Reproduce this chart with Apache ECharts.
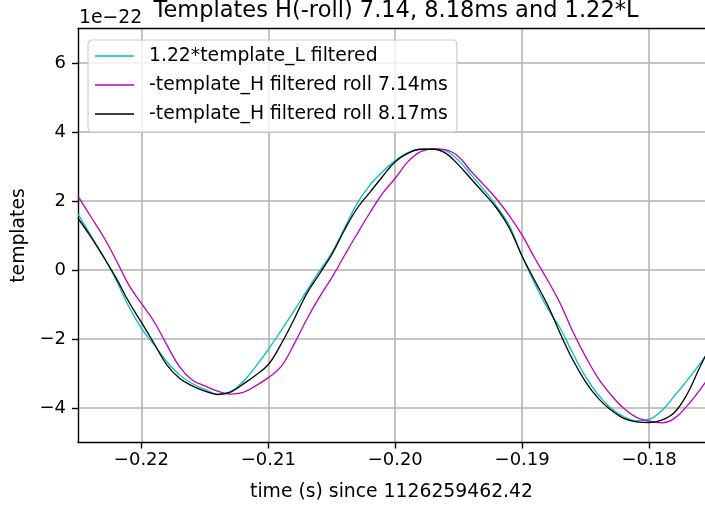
<!DOCTYPE html>
<html>
<head>
<meta charset="utf-8">
<script src="https://cdn.jsdelivr.net/npm/echarts@6/dist/echarts.min.js"></script>
<style>html,body{margin:0;padding:0;background:#fff}#c{width:705px;height:509px}</style>
</head>
<body>
<div id="c"></div>
<script>
// time (s) since 1126259462.42
const timeS = [-0.225,-0.224,-0.223,-0.222,-0.221,-0.220,-0.219,-0.218,-0.217,-0.216,
  -0.215,-0.214,-0.213,-0.212,-0.211,-0.210,-0.209,-0.208,-0.207,-0.206,
  -0.205,-0.204,-0.203,-0.202,-0.201,-0.200,-0.199,-0.198,-0.197,-0.196,
  -0.195,-0.194,-0.193,-0.192,-0.191,-0.190,-0.189,-0.188,-0.187,-0.186,
  -0.185,-0.184,-0.183,-0.182,-0.181,-0.180,-0.179,-0.178,-0.177,-0.176,-0.175];
// values in units of 1e-22
const tplL = [1.62,1.01,0.39,-0.29,-1.06,-1.69,-2.17,-2.66,-3.04,-3.29,
  -3.46,-3.59,-3.53,-3.24,-2.80,-2.30,-1.76,-1.20,-0.62,-0.05,
  0.50,1.21,1.93,2.46,2.85,3.17,3.40,3.50,3.51,3.45,
  3.17,2.75,2.32,1.84,1.28,0.39,-0.39,-1.11,-1.69,-2.42,
  -3.09,-3.62,-4.01,-4.25,-4.37,-4.33,-4.08,-3.65,-3.20,-2.72,-2.20];
const tplH714 = [2.14,1.55,0.97,0.29,-0.43,-0.97,-1.50,-2.17,-2.80,-3.19,
  -3.36,-3.51,-3.60,-3.55,-3.36,-3.12,-2.80,-2.17,-1.45,-0.80,
  -0.22,0.42,1.05,1.66,2.22,2.66,3.14,3.43,3.51,3.48,
  3.28,2.85,2.46,2.05,1.57,1.01,0.34,-0.29,-0.97,-1.79,
  -2.51,-3.14,-3.62,-4.01,-4.27,-4.38,-4.43,-4.30,-3.94,-3.48,-2.95];
const tplH817 = [1.50,0.97,0.39,-0.23,-0.92,-1.52,-2.13,-2.75,-3.14,-3.36,
  -3.51,-3.61,-3.54,-3.31,-3.05,-2.74,-2.15,-1.45,-0.70,-0.13,
  0.45,1.16,1.79,2.25,2.71,3.14,3.38,3.50,3.50,3.38,
  3.04,2.63,2.22,1.79,1.21,0.40,-0.31,-1.01,-1.84,-2.61,
  -3.24,-3.72,-4.06,-4.30,-4.40,-4.42,-4.35,-4.13,-3.60,-2.82,-2.10];
const seriesNames = ['1.22*template_L filtered','-template_H filtered roll 7.14ms','-template_H filtered roll 8.17ms'];
const seriesColors = ['#00bfbf','#bf00bf','#000000'];
const xTicks = [-0.22,-0.21,-0.20,-0.19,-0.18];
const yTicks = [-4,-2,0,2,4,6];
const titleText = 'Templates H(-roll) 7.14, 8.18ms and 1.22*L';
const xName = 'time (s) since 1126259462.42';
const yName = 'templates';
const offsetText = '1e\u221222';

const FONT = 'DejaVu Sans';
const X_MIN = -0.225, X_MAX = -0.17559, Y_MIN = -5, Y_MAX = 7;
const minus = s => s.replace('-', '\u2212');
const pairs = vals => timeS.map((t, i) => [t, vals[i]]);
const allVals = [tplL, tplH714, tplH817];
const spine = {show: true, onZero: false, lineStyle: {color: '#000', width: 1.4}};

const chart = echarts.init(document.getElementById('c'), null, {renderer: 'canvas'});
chart.setOption({
  animation: false,
  backgroundColor: '#ffffff',
  textStyle: {fontFamily: FONT},
  grid: {left: 78, top: 28.5, right: 0, bottom: 66.5, show: false},
  xAxis: [{
    type: 'value', min: X_MIN, max: X_MAX, position: 'bottom',
    name: xName, nameLocation: 'middle', nameGap: 40,
    nameTextStyle: {fontSize: 18.8, color: '#000', fontFamily: FONT},
    axisLine: spine,
    axisTick: {show: true, length: 6, customValues: xTicks, lineStyle: {color: '#000', width: 1.4}},
    axisLabel: {customValues: xTicks, margin: 9, fontSize: 18, color: '#000', fontFamily: FONT,
      formatter: v => minus(v.toFixed(2))},
    splitLine: {show: true, lineStyle: {color: '#b0b0b0', width: 1.5}}
  }, {
    type: 'value', min: X_MIN, max: X_MAX, position: 'top',
    axisLine: spine, axisTick: {show: false}, axisLabel: {show: false}, splitLine: {show: false}
  }],
  yAxis: {
    type: 'value', min: Y_MIN, max: Y_MAX,
    name: yName, nameLocation: 'middle', nameGap: 46,
    nameTextStyle: {fontSize: 18.8, color: '#000', fontFamily: FONT},
    axisLine: spine,
    axisTick: {show: true, length: 6, customValues: yTicks, lineStyle: {color: '#000', width: 1.4}},
    axisLabel: {customValues: yTicks, margin: 12, fontSize: 18, color: '#000', fontFamily: FONT,
      formatter: v => minus(String(v))},
    splitLine: {show: true, lineStyle: {color: '#b0b0b0', width: 1.5}}
  },
  legend: {
    orient: 'vertical', left: 88, top: 40,
    icon: 'rect', itemWidth: 39, itemHeight: 1.4, itemGap: 9,
    padding: [6, 9, 8, 7],
    backgroundColor: 'rgba(255,255,255,0.8)', borderColor: '#cccccc', borderWidth: 1.2, borderRadius: 4,
    textStyle: {fontSize: 18.8, color: '#000', fontFamily: FONT, lineHeight: 20, padding: [0, 0, 0, 10]},
    data: seriesNames
  },
  graphic: [
    {type: 'text', x: 396, y: 0, style: {text: titleText, fontSize: 22.5, fontFamily: FONT, fill: '#000', align: 'center', verticalAlign: 'top'}},
    {type: 'text', x: 79, y: 9, style: {text: offsetText, fontSize: 18.8, fontFamily: FONT, fill: '#000', align: 'left', verticalAlign: 'top'}}
  ],
  series: seriesNames.map((n, k) => ({
    name: n, type: 'line', data: pairs(allVals[k]), xAxisIndex: 0,
    symbol: 'none', showSymbol: false, smooth: 0.4,
    lineStyle: {color: seriesColors[k], width: 1.3},
    itemStyle: {color: seriesColors[k]},
    z: 3 + k
  }))
});
</script>
</body>
</html>
